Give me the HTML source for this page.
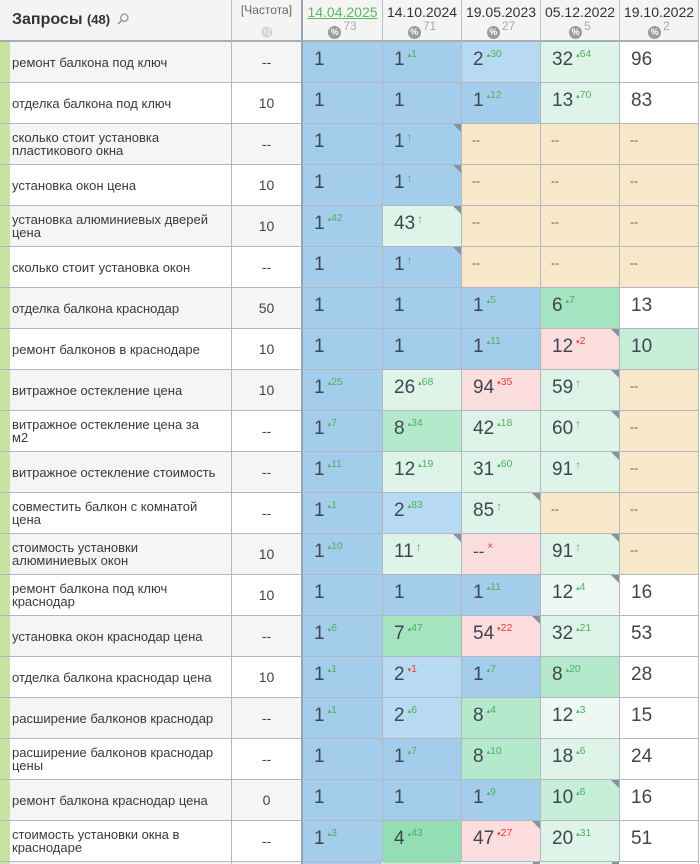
<!DOCTYPE html>
<html><head><meta charset="utf-8">
<style>
html,body{margin:0;padding:0;width:700px;height:864px;overflow:hidden;background:#fff}
#w{position:relative;width:700px;height:864px;overflow:hidden;font-family:"Liberation Sans","Noto Sans CJK SC",sans-serif;background:#fff}
.h{position:absolute;top:0;height:42px;box-sizing:border-box;border-right:1px solid #b9bec6;border-bottom:2px solid #a7adb7;background:#f4f4f5}
.row{position:absolute;left:0;width:700px;height:41px}
.row>div{position:absolute;top:0;height:41px;box-sizing:border-box;border-bottom:1px solid #b3b8c0;border-right:1px solid #b3b8c0}
.row>.s{left:0;width:10px;background:#c9e2a0;border-right:none}
.q{left:10px;width:222px;display:flex;align-items:center;padding-left:2px;font-size:13px;line-height:13px;color:#3a3a3a;background:#fff;white-space:nowrap}
.row>.f{left:232px;width:71px;border-right:2px solid #98a4b4;display:flex;align-items:center;justify-content:center;font-size:14px;color:#444;background:#fff}
.g{background:#f5f5f5!important}
.c1{left:303px;width:80px}
.c2{left:383px;width:79px}
.c3{left:462px;width:79px}
.c4{left:541px;width:79px}
.c5{left:620px;width:79px}
.B{background:#a4cdec}.LB{background:#b7daf2}.G4{background:#93deb4}.G6{background:#a5e4c1}.G8{background:#b4e9cb}.G10{background:#c6eed8}
.LG{background:#dff4e8}.VLG{background:#ecf8f1}.P{background:#fcdddd}.Y{background:#f6e8c8}.W{background:#fff}
.n{position:absolute;left:11px;top:8px;font-size:19px;line-height:19px;color:#3e4751;white-space:nowrap}
.u{font-size:10.5px;position:relative;top:-8px;margin-left:3px;color:#4cb163;font-style:normal}
.u.r{color:#e53b3b}
.u b{font-size:7px;font-weight:normal}
.a{font-size:12px;position:relative;top:-6px;margin-left:2px;color:#4cb163;font-style:normal}
.d{position:absolute;left:10px;top:10px;font-size:12px;line-height:12px;color:#555}
.k{position:absolute;top:0;right:0;width:0;height:0;border-left:8px solid transparent;border-top:8px solid #8792a0}
.dt{position:absolute;top:4px;left:0;width:100%;text-align:center;font-size:14px;line-height:16px;color:#333}
.pc{position:absolute;top:20px;left:0;width:100%;display:flex;justify-content:center;align-items:flex-start}
.pc i{display:inline-block;width:13px;height:13px;border-radius:50%;background:#9b9b9b;color:#fff;font-size:9px;font-weight:bold;line-height:13px;text-align:center;font-style:normal;margin-top:6px}
.pc span{font-size:12px;line-height:12px;color:#aaa;margin-left:2px}
</style></head><body>
<div id="w">

<div class="h" style="left:0;width:232px;">
  <div style="position:absolute;left:12px;top:11px;font-weight:bold;color:#333;white-space:nowrap;"><span style="font-size:16px">Запросы</span> <span style="font-size:13px">(48)</span>
  <svg width="12" height="12" viewBox="0 0 12 12" style="vertical-align:-1px;margin-left:2px"><circle cx="7.3" cy="4.7" r="3.6" fill="none" stroke="#9a9a9a" stroke-width="1.4"/><line x1="4.6" y1="7.4" x2="1" y2="11" stroke="#9a9a9a" stroke-width="1.6"/></svg></div>
</div>
<div class="h" style="left:232px;width:71px;border-right:2px solid #98a4b4;">
  <div style="position:absolute;top:3px;left:0;width:100%;text-align:center;font-size:12px;color:#666;">[Частота]</div>
  <svg width="12" height="12" style="position:absolute;left:29px;top:26px"><circle cx="6" cy="6" r="5.5" fill="#d4d4d4"/><path d="M3 3 Q5 5 4 8 M7 2 Q9 4 8 6 Q7 9 9 10" stroke="#f4f4f4" stroke-width="1.2" fill="none"/></svg>
</div>
<div class="h" style="left:303px;width:80px;"><div class="dt" style="color:#5cb85c;text-decoration:underline;">14.04.2025</div><div class="pc"><i>%</i><span>73</span></div></div>
<div class="h" style="left:383px;width:79px;"><div class="dt">14.10.2024</div><div class="pc"><i>%</i><span>71</span></div></div>
<div class="h" style="left:462px;width:79px;"><div class="dt">19.05.2023</div><div class="pc"><i>%</i><span>27</span></div></div>
<div class="h" style="left:541px;width:79px;"><div class="dt">05.12.2022</div><div class="pc"><i>%</i><span>5</span></div></div>
<div class="h" style="left:620px;width:79px;"><div class="dt">19.10.2022</div><div class="pc"><i>%</i><span>2</span></div></div>

<!-- R1 -->
<div class="row" style="top:42px"><div class="s"></div><div class="q g">ремонт балкона под ключ</div><div class="f g">--</div>
<div class="c1 B"><span class="n">1</span></div>
<div class="c2 B"><span class="n">1<i class="u"><b>▴</b>1</i></span></div>
<div class="c3 LB"><span class="n">2<i class="u"><b>▴</b>30</i></span></div>
<div class="c4 LG"><span class="n">32<i class="u"><b>▴</b>64</i></span></div>
<div class="c5 W"><span class="n">96</span></div></div>
<!-- R2 -->
<div class="row" style="top:83px"><div class="s"></div><div class="q">отделка балкона под ключ</div><div class="f">10</div>
<div class="c1 B"><span class="n">1</span></div>
<div class="c2 B"><span class="n">1</span></div>
<div class="c3 B"><span class="n">1<i class="u"><b>▴</b>12</i></span></div>
<div class="c4 LG"><span class="n">13<i class="u"><b>▴</b>70</i></span></div>
<div class="c5 W"><span class="n">83</span></div></div>
<!-- R3 -->
<div class="row" style="top:124px"><div class="s"></div><div class="q g">сколько стоит установка<br>пластикового окна</div><div class="f g">--</div>
<div class="c1 B"><span class="n">1</span></div>
<div class="c2 B"><span class="n">1<i class="a">↑</i></span><span class="k"></span></div>
<div class="c3 Y"><span class="d">--</span></div>
<div class="c4 Y"><span class="d">--</span></div>
<div class="c5 Y"><span class="d">--</span></div></div>
<!-- R4 -->
<div class="row" style="top:165px"><div class="s"></div><div class="q">установка окон цена</div><div class="f">10</div>
<div class="c1 B"><span class="n">1</span></div>
<div class="c2 B"><span class="n">1<i class="a">↑</i></span><span class="k"></span></div>
<div class="c3 Y"><span class="d">--</span></div>
<div class="c4 Y"><span class="d">--</span></div>
<div class="c5 Y"><span class="d">--</span></div></div>
<!-- R5 -->
<div class="row" style="top:206px"><div class="s"></div><div class="q g">установка алюминиевых дверей<br>цена</div><div class="f g">10</div>
<div class="c1 B"><span class="n">1<i class="u"><b>▴</b>42</i></span></div>
<div class="c2 LG"><span class="n">43<i class="a">↑</i></span><span class="k"></span></div>
<div class="c3 Y"><span class="d">--</span></div>
<div class="c4 Y"><span class="d">--</span></div>
<div class="c5 Y"><span class="d">--</span></div></div>
<!-- R6 -->
<div class="row" style="top:247px"><div class="s"></div><div class="q">сколько стоит установка окон</div><div class="f">--</div>
<div class="c1 B"><span class="n">1</span></div>
<div class="c2 B"><span class="n">1<i class="a">↑</i></span><span class="k"></span></div>
<div class="c3 Y"><span class="d">--</span></div>
<div class="c4 Y"><span class="d">--</span></div>
<div class="c5 Y"><span class="d">--</span></div></div>
<!-- R7 -->
<div class="row" style="top:288px"><div class="s"></div><div class="q g">отделка балкона краснодар</div><div class="f g">50</div>
<div class="c1 B"><span class="n">1</span></div>
<div class="c2 B"><span class="n">1</span></div>
<div class="c3 B"><span class="n">1<i class="u"><b>▴</b>5</i></span></div>
<div class="c4 G6"><span class="n">6<i class="u"><b>▴</b>7</i></span></div>
<div class="c5 W"><span class="n">13</span></div></div>
<!-- R8 -->
<div class="row" style="top:329px"><div class="s"></div><div class="q">ремонт балконов в краснодаре</div><div class="f">10</div>
<div class="c1 B"><span class="n">1</span></div>
<div class="c2 B"><span class="n">1</span></div>
<div class="c3 B"><span class="n">1<i class="u"><b>▴</b>11</i></span></div>
<div class="c4 P"><span class="n">12<i class="u r"><b>▾</b>2</i></span><span class="k"></span></div>
<div class="c5 G10"><span class="n">10</span></div></div>
<!-- R9 -->
<div class="row" style="top:370px"><div class="s"></div><div class="q g">витражное остекление цена</div><div class="f g">10</div>
<div class="c1 B"><span class="n">1<i class="u"><b>▴</b>25</i></span></div>
<div class="c2 LG"><span class="n">26<i class="u"><b>▴</b>68</i></span></div>
<div class="c3 P"><span class="n">94<i class="u r"><b>▾</b>35</i></span></div>
<div class="c4 LG"><span class="n">59<i class="a">↑</i></span><span class="k"></span></div>
<div class="c5 Y"><span class="d">--</span></div></div>
<!-- R10 -->
<div class="row" style="top:411px"><div class="s"></div><div class="q">витражное остекление цена за<br>м2</div><div class="f">--</div>
<div class="c1 B"><span class="n">1<i class="u"><b>▴</b>7</i></span></div>
<div class="c2 G8"><span class="n">8<i class="u"><b>▴</b>34</i></span></div>
<div class="c3 LG"><span class="n">42<i class="u"><b>▴</b>18</i></span></div>
<div class="c4 LG"><span class="n">60<i class="a">↑</i></span><span class="k"></span></div>
<div class="c5 Y"><span class="d">--</span></div></div>
<!-- R11 -->
<div class="row" style="top:452px"><div class="s"></div><div class="q g">витражное остекление стоимость</div><div class="f g">--</div>
<div class="c1 B"><span class="n">1<i class="u"><b>▴</b>11</i></span></div>
<div class="c2 LG"><span class="n">12<i class="u"><b>▴</b>19</i></span></div>
<div class="c3 LG"><span class="n">31<i class="u"><b>▴</b>60</i></span></div>
<div class="c4 LG"><span class="n">91<i class="a">↑</i></span><span class="k"></span></div>
<div class="c5 Y"><span class="d">--</span></div></div>
<!-- R12 -->
<div class="row" style="top:493px"><div class="s"></div><div class="q">совместить балкон с комнатой<br>цена</div><div class="f">--</div>
<div class="c1 B"><span class="n">1<i class="u"><b>▴</b>1</i></span></div>
<div class="c2 LB"><span class="n">2<i class="u"><b>▴</b>83</i></span></div>
<div class="c3 LG"><span class="n">85<i class="a">↑</i></span><span class="k"></span></div>
<div class="c4 Y"><span class="d">--</span></div>
<div class="c5 Y"><span class="d">--</span></div></div>
<!-- R13 -->
<div class="row" style="top:534px"><div class="s"></div><div class="q g">стоимость установки<br>алюминиевых окон</div><div class="f g">10</div>
<div class="c1 B"><span class="n">1<i class="u"><b>▴</b>10</i></span></div>
<div class="c2 LG"><span class="n">11<i class="a">↑</i></span><span class="k"></span></div>
<div class="c3 P"><span class="n" style="font-size:17px">--<i class="u r" style="font-size:10px">×</i></span></div>
<div class="c4 LG"><span class="n">91<i class="a">↑</i></span><span class="k"></span></div>
<div class="c5 Y"><span class="d">--</span></div></div>
<!-- R14 -->
<div class="row" style="top:575px"><div class="s"></div><div class="q">ремонт балкона под ключ<br>краснодар</div><div class="f">10</div>
<div class="c1 B"><span class="n">1</span></div>
<div class="c2 B"><span class="n">1</span></div>
<div class="c3 B"><span class="n">1<i class="u"><b>▴</b>11</i></span></div>
<div class="c4 VLG"><span class="n">12<i class="u"><b>▴</b>4</i></span><span class="k"></span></div>
<div class="c5 W"><span class="n">16</span></div></div>
<!-- R15 -->
<div class="row" style="top:616px"><div class="s"></div><div class="q g">установка окон краснодар цена</div><div class="f g">--</div>
<div class="c1 B"><span class="n">1<i class="u"><b>▴</b>6</i></span></div>
<div class="c2 G6"><span class="n">7<i class="u"><b>▴</b>47</i></span></div>
<div class="c3 P"><span class="n">54<i class="u r"><b>▾</b>22</i></span><span class="k"></span></div>
<div class="c4 LG"><span class="n">32<i class="u"><b>▴</b>21</i></span></div>
<div class="c5 W"><span class="n">53</span></div></div>
<!-- R16 -->
<div class="row" style="top:657px"><div class="s"></div><div class="q">отделка балкона краснодар цена</div><div class="f">10</div>
<div class="c1 B"><span class="n">1<i class="u"><b>▴</b>1</i></span></div>
<div class="c2 LB"><span class="n">2<i class="u r"><b>▾</b>1</i></span></div>
<div class="c3 B"><span class="n">1<i class="u"><b>▴</b>7</i></span></div>
<div class="c4 G8"><span class="n">8<i class="u"><b>▴</b>20</i></span></div>
<div class="c5 W"><span class="n">28</span></div></div>
<!-- R17 -->
<div class="row" style="top:698px"><div class="s"></div><div class="q g">расширение балконов краснодар</div><div class="f g">--</div>
<div class="c1 B"><span class="n">1<i class="u"><b>▴</b>1</i></span></div>
<div class="c2 LB"><span class="n">2<i class="u"><b>▴</b>6</i></span></div>
<div class="c3 G8"><span class="n">8<i class="u"><b>▴</b>4</i></span></div>
<div class="c4 VLG"><span class="n">12<i class="u"><b>▴</b>3</i></span></div>
<div class="c5 W"><span class="n">15</span></div></div>
<!-- R18 -->
<div class="row" style="top:739px"><div class="s"></div><div class="q">расширение балконов краснодар<br>цены</div><div class="f">--</div>
<div class="c1 B"><span class="n">1</span></div>
<div class="c2 B"><span class="n">1<i class="u"><b>▴</b>7</i></span></div>
<div class="c3 G8"><span class="n">8<i class="u"><b>▴</b>10</i></span></div>
<div class="c4 LG"><span class="n">18<i class="u"><b>▴</b>6</i></span></div>
<div class="c5 W"><span class="n">24</span></div></div>
<!-- R19 -->
<div class="row" style="top:780px"><div class="s"></div><div class="q g">ремонт балкона краснодар цена</div><div class="f g">0</div>
<div class="c1 B"><span class="n">1</span></div>
<div class="c2 B"><span class="n">1</span></div>
<div class="c3 B"><span class="n">1<i class="u"><b>▴</b>9</i></span></div>
<div class="c4 G10"><span class="n">10<i class="u"><b>▴</b>6</i></span><span class="k"></span></div>
<div class="c5 W"><span class="n">16</span></div></div>
<!-- R20 -->
<div class="row" style="top:821px"><div class="s"></div><div class="q">стоимость установки окна в<br>краснодаре</div><div class="f">--</div>
<div class="c1 B"><span class="n">1<i class="u"><b>▴</b>3</i></span></div>
<div class="c2 G4"><span class="n">4<i class="u"><b>▴</b>43</i></span></div>
<div class="c3 P"><span class="n">47<i class="u r"><b>▾</b>27</i></span><span class="k"></span></div>
<div class="c4 LG"><span class="n">20<i class="u"><b>▴</b>31</i></span></div>
<div class="c5 W"><span class="n">51</span></div></div>
<!-- R21 sliver -->
<div style="position:absolute;left:0;top:862px;width:700px;height:2px;overflow:hidden">
<div style="position:absolute;left:0;top:0;width:10px;height:2px;background:#c9e2a0"></div>
<div style="position:absolute;left:10px;top:0;width:221px;height:2px;background:#f5f5f5"></div>
<div style="position:absolute;left:231px;top:0;width:1px;height:2px;background:#b3b8c0"></div>
<div style="position:absolute;left:232px;top:0;width:69px;height:2px;background:#f5f5f5"></div>
<div style="position:absolute;left:301px;top:0;width:2px;height:2px;background:#98a4b4"></div>
<div style="position:absolute;left:303px;top:0;width:79px;height:2px;background:#a4cdec"></div>
<div style="position:absolute;left:383px;top:0;width:78px;height:2px;background:#b4e9cb"></div>
<div style="position:absolute;left:462px;top:0;width:78px;height:2px;background:#dff4e8"></div>
<div style="position:absolute;left:533px;top:0;width:7px;height:2px;background:#8792a0"></div>
<div style="position:absolute;left:541px;top:0;width:78px;height:2px;background:#dff4e8"></div>
<div style="position:absolute;left:612px;top:0;width:7px;height:2px;background:#8792a0"></div>
<div style="position:absolute;left:698px;top:0;width:1px;height:2px;background:#b3b8c0"></div>
</div>

</div>
</body></html>
